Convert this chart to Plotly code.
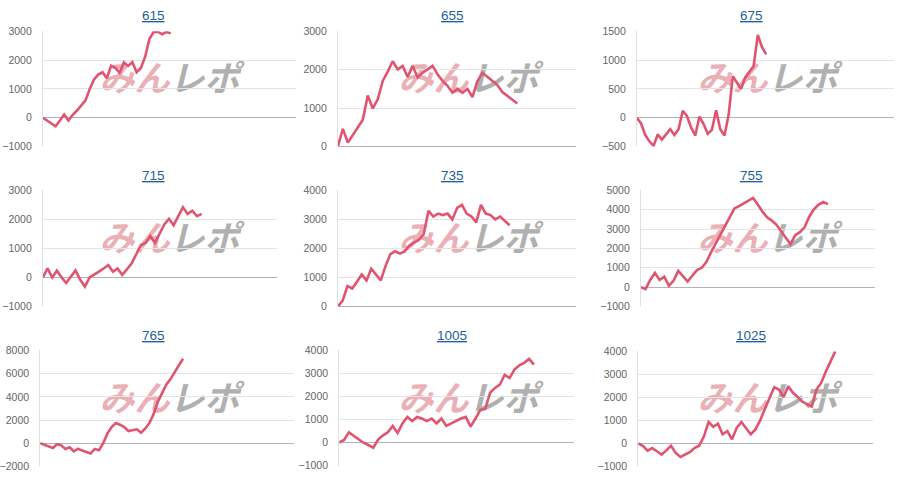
import plotly.graph_objects as go

titles = ["615", "655", "675", "715", "735", "755", "765", "1005", "1025"]

v615 = [0, -100, -180, -300, -100, 110, -100, 100, 250, 420, 600, 1000, 1330, 1500, 1580, 1370,
        1800, 1730, 1560, 1920, 1800, 1930, 1580, 1730, 2120, 2740, 2980, 2980, 2900, 2980, 2930]
v655 = [0, 460, 100, 300, 520, 700, 1330, 990, 1230, 1710, 1950, 2220, 2010, 2100, 1810, 2100,
        1800, 1920, 2010, 2100, 1880, 1710, 1580, 1400, 1500, 1400, 1500, 1290, 1700, 1920, 1820,
        1720, 1600, 1420, 1320, 1220, 1120]
v675 = [0, -100, -300, -410, -490, -290, -380, -280, -200, -300, -200, 120, 30, -170, -310, 20,
        -110, -280, -210, 130, -200, -310, 50, 720, 610, 500, 700, 800, 900, 1440, 1230, 1100]
v715 = [0, 310, 0, 240, 0, -190, 30, 240, -80, -320, 0, 90, 200, 310, 430, 200, 310, 90, 280,
        480, 800, 1120, 1190, 1430, 1190, 1540, 1830, 2020, 1800, 2110, 2420, 2190, 2300, 2110, 2190]
v735 = [0, 200, 700, 620, 850, 1100, 900, 1300, 1100, 900, 1400, 1800, 1900, 1820, 1900, 2100,
        2200, 2300, 2500, 3300, 3100, 3200, 3150, 3200, 3000, 3400, 3500, 3200, 3100, 2900, 3500,
        3200, 3150, 3000, 3100, 2950, 2800]
v755 = [0, -100, 370, 740, 370, 540, 70, 340, 840, 570, 290, 590, 880, 1000, 1300, 1800, 2250,
        2690, 3140, 3600, 4070, 4190, 4320, 4490, 4610, 4270, 3900, 3610, 3440, 3220, 2890, 2560,
        2220, 2690, 2840, 3090, 3640, 4020, 4270, 4400, 4290]
v765 = [0, -150, -270, -400, -80, -180, -500, -350, -690, -470, -630, -740, -880, -490, -600, 0,
        850, 1400, 1750, 1600, 1400, 1050, 1130, 1200, 900, 1270, 1750, 2530, 3590, 4350, 5050,
        5530, 6170, 6720, 7280]
v1005 = [0, 110, 440, 300, 130, -10, -110, -230, 130, 310, 440, 720, 410, 830, 1110, 930, 1110,
         1040, 930, 1040, 830, 1040, 720, 830, 940, 1040, 1110, 690, 1040, 1420, 1460, 2160, 2370,
         2510, 2940, 2800, 3170, 3350, 3460, 3630, 3380]
v1025 = [0, -100, -310, -200, -340, -480, -300, -100, -410, -590, -480, -380, -200, -100, 300,
         930, 720, 860, 400, 540, 180, 680, 930, 650, 400, 610, 1000, 1500, 2000, 2440, 2340, 2020,
         2480, 2200, 2020, 1810, 1710, 1600, 2340, 2630, 3120, 3540, 4000]

series = [v615, v655, v675, v715, v735, v755, v765, v1005, v1025]
y_min = [-1000, 0, -500, -1000, 0, -1000, -2000, -1000, -1000]
y_max = [3000, 3000, 1500, 3000, 4000, 5000, 8000, 4000, 4000]
y_step = [1000, 1000, 500, 1000, 1000, 1000, 2000, 1000, 1000]

# layout geometry (pixels): plot left, plot right, top, bottom, end of data
W, H = 900, 492
geom = [
    (40, 294, 26, 144, 168.3),
    (336, 575, 26, 144, 516),
    (636, 894, 26, 144, 765.7),
    (40, 275, 189, 308, 199.3),
    (336, 575, 189, 308, 508.3),
    (640, 875, 189, 308, 827.7),
    (37.3, 292, 353, 472, 180.7),
    (337.3, 572.7, 353, 471, 532.7),
    (637.3, 872.7, 354, 472, 835),
]

LINE = "#e05470"
LOGO = ("<b><i><span style='color:#eab0b5'>みん</span>"
        "<span style='color:#b0b0b0'>レポ</span></i></b>")
fig = go.Figure()
shapes = []
annotations = []

for i, (vals, (x0, x1, yt, yb, xe)) in enumerate(zip(series, geom)):
    k = "" if i == 0 else str(i + 1)
    n = len(vals)
    R = (n - 1) * (x1 - x0) / (xe - x0)
    fig.add_trace(go.Scatter(
        x=list(range(n)), y=vals, mode="lines",
        line=dict(color=LINE, width=2.6),
        xaxis="x" + k, yaxis="y" + k, showlegend=False, hoverinfo="skip"))
    fig.layout["xaxis" + k] = dict(
        domain=[x0 / W, x1 / W], anchor="y" + k, range=[0, R],
        showgrid=False, zeroline=False, showticklabels=False, showline=False, fixedrange=True)
    fig.layout["yaxis" + k] = dict(
        domain=[1 - yb / H, 1 - yt / H], anchor="x" + k,
        range=[y_min[i], y_max[i]], dtick=y_step[i], tick0=0,
        showgrid=True, gridcolor="#e4e4e4", gridwidth=1,
        zeroline=True, zerolinecolor="#b4b4b4", zerolinewidth=1,
        showline=True, linecolor="#e0e0e0", linewidth=1,
        ticks="", ticklabelstandoff=8,
        tickfont=dict(family="Liberation Sans, Arial", size=10.5, color="#666666"),
        fixedrange=True)

    r, c = divmod(i, 3)
    cx, cy = 300 * c, 164 * r
    # title (link style)
    annotations.append(dict(
        text="<u>" + titles[i] + "</u>", x=(cx + 151) / W, y=1 - (cy + 10) / H,
        xref="paper", yref="paper", showarrow=False, xanchor="center", yanchor="middle",
        font=dict(family="Liberation Sans, Arial", size=13.5, color="#1f5f9c")))
    # watermark logo (behind the data)
    lx, ly = cx + 167, cy + 77
    shapes.append(dict(
        type="rect", xref="paper", yref="paper", layer="below",
        x0=(lx - 75) / W, x1=(lx + 75) / W, y0=1 - (ly + 15) / H, y1=1 - (ly - 15) / H,
        line=dict(width=0), fillcolor="rgba(0,0,0,0)",
        label=dict(text=LOGO, textposition="middle center",
                   font=dict(family="Noto Sans CJK JP", size=35, color="#b0b0b0"))))

fig.update_layout(
    width=W, height=H, margin=dict(l=0, r=0, t=0, b=0),
    paper_bgcolor="white", plot_bgcolor="white",
    shapes=shapes, annotations=annotations, showlegend=False)

fig.write_html("out.html", include_plotlyjs=True, config={"displayModeBar": False})
